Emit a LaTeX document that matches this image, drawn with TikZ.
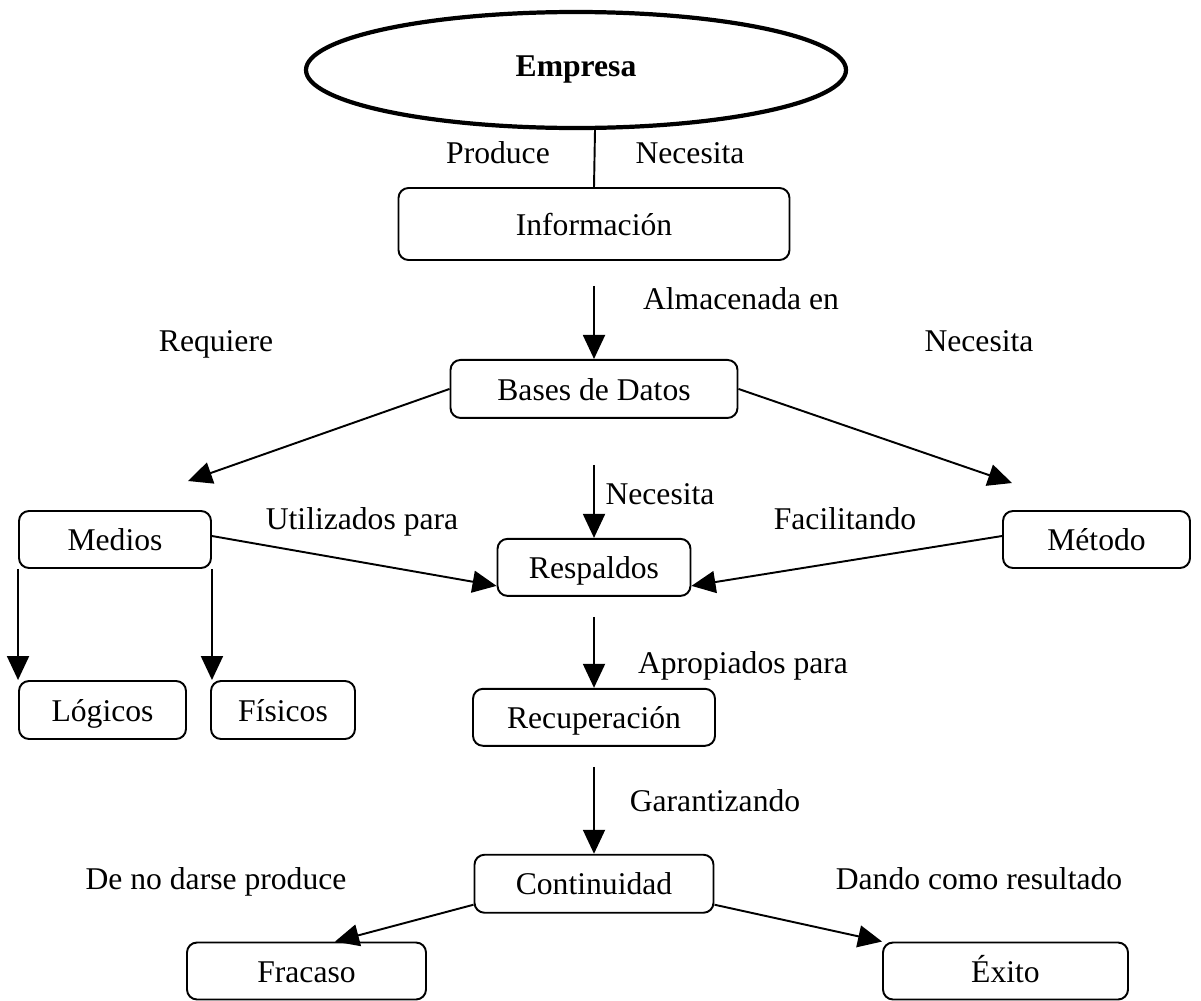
\documentclass[tikz,border=0pt]{standalone}
\usepackage{fontspec}
\setmainfont{Liberation Serif}
\usepackage{tikz}
\usetikzlibrary{arrows.meta,calc}
\usetikzlibrary{positioning,shapes}

\tikzset{
    concept/.style={draw, rounded corners=0.2cm, line width=1.1pt, minimum height=1.14cm, inner sep=0pt, text height=15pt, text depth=2.4pt},
    arr/.style={line width=1.1pt, -{Triangle[length=0.48cm, width=0.44cm]}},
    lbl/.style={inner sep=0pt, text height=15pt, text depth=2.4pt}
}

\begin{document}
\begin{tikzpicture}[font=\fontsize{18}{21.6}\selectfont]
    \useasboundingbox (0,0) rectangle (24.02,-20);

    % Nodes
    \node[draw, ellipse, line width=2.4pt, minimum width=10.8cm, minimum height=2.32cm] (empresa) at (11.52,-1.4) {\textbf{Empresa}};
    \node[concept, minimum width=7.82cm, minimum height=1.44cm] (informacion) at (11.88,-4.48) {Información};
    \node[concept, minimum width=5.74cm, minimum height=1.16cm, below=1.96cm of informacion] (bases) {Bases de Datos};
    \node[concept, minimum width=3.86cm, below=2.38cm of bases] (respaldos) {Respaldos};
    \node[concept, minimum width=4.84cm, below=1.82cm of respaldos] (recuperacion) {Recuperación};
    \node[concept, minimum width=4.78cm, minimum height=1.16cm, below=2.14cm of recuperacion] (continuidad) {Continuidad};
    \node[concept, minimum width=3.84cm] (medios) at (2.3,-10.79) {Medios};
    \node[concept, minimum width=3.74cm] (metodo) at (21.93,-10.79) {Método};
    \node[concept, minimum width=3.34cm, minimum height=1.16cm] (logicos) at (2.05,-14.2) {Lógicos};
    \node[concept, minimum width=2.88cm, minimum height=1.16cm] (fisicos) at (5.66,-14.2) {Físicos};
    \node[concept, minimum width=4.78cm] (fracaso) at (6.13,-19.42) {Fracaso};
    \node[concept, minimum width=4.9cm] (exito) at (20.11,-19.42) {Éxito};

    % Free ends
    \coordinate (reqtip) at (3.76,-9.62);
    \coordinate (nectip) at (20.24,-9.66);

    % Connectors
    \draw[line width=1.1pt] ([xshift=0.38cm]empresa.south) -- (informacion.north);
    \draw[arr, shorten <=0.5cm] (informacion) -- (bases);
    \draw[arr] (bases.west) -- (reqtip);
    \draw[arr] (bases.east) -- (nectip);
    \draw[arr, shorten <=0.92cm] (bases) -- (respaldos);
    \draw[arr] ([yshift=0.07cm]medios.east) -- ([yshift=-0.37cm]respaldos.west);
    \draw[arr] ([yshift=0.07cm]metodo.west) -- ([yshift=-0.37cm]respaldos.east);
    \draw[arr] (medios.south west) -- (medios.south west |- logicos.north);
    \draw[arr] (medios.south east) -- (medios.south east |- fisicos.north);
    \draw[arr, shorten <=0.4cm] (respaldos) -- (recuperacion);
    \draw[arr, shorten <=0.4cm] (recuperacion) -- (continuidad);
    \draw[arr] ([yshift=0.18cm]continuidad.south west) -- ([xshift=0.57cm]fracaso.north);
    \draw[arr] ([yshift=0.18cm]continuidad.south east) -- (exito.north west);

    % Labels
    \node[lbl] (produce) at (9.96,-3.04) {Produce};
    \node[lbl] (necesita1) at (13.8,-3.04) {Necesita};
    \node[lbl] (almacenada) at (14.82,-5.96) {Almacenada en};
    \node[lbl] (requiere) at (4.32,-6.8) {Requiere};
    \node[lbl] (necesita2) at (19.58,-6.8) {Necesita};
    \node[lbl] (necesita3) at (13.2,-9.86) {Necesita};
    \node[lbl] (utilizados) at (7.24,-10.36) {Utilizados para};
    \node[lbl] (facilitando) at (16.9,-10.36) {Facilitando};
    \node[lbl] (apropiados) at (14.86,-13.24) {Apropiados para};
    \node[lbl] (garantizando) at (14.3,-16.0) {Garantizando};
    \node[lbl] (nodarse) at (4.32,-17.56) {De no darse produce};
    \node[lbl] (dando) at (19.58,-17.56) {Dando como resultado};
\end{tikzpicture}
\end{document}
